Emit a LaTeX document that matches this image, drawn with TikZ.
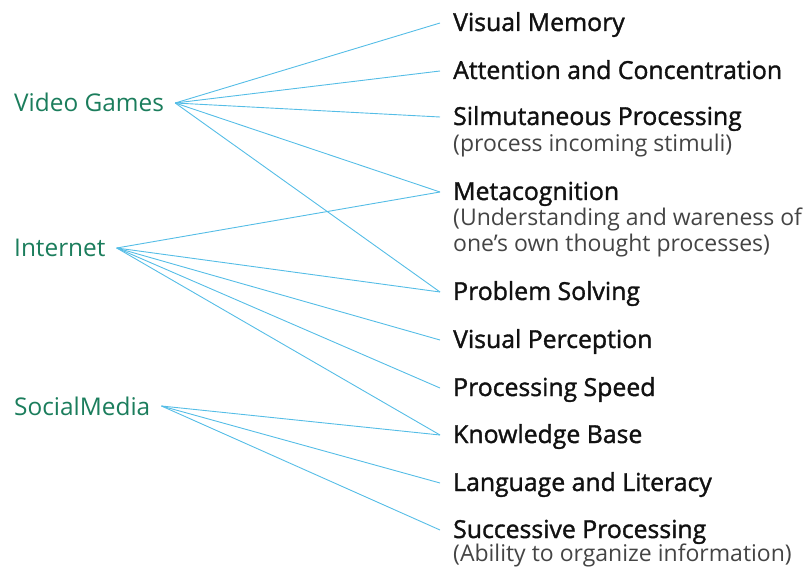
\documentclass[tikz,border=0pt]{standalone}
\usepackage{fontspec}
\setmainfont{Open Sans}
\newfontfamily\semib{Open Sans}[FakeBold=1.4]
\newfontfamily\lightf{Open Sans}
\definecolor{hubgreen}{HTML}{1B7D5C}
\definecolor{linkblue}{HTML}{55BDE6}
\definecolor{headtext}{HTML}{111111}
\definecolor{subtext}{HTML}{444444}
\begin{document}
\begin{tikzpicture}[x=1pt,y=-1pt,
  hub/.style={anchor=base west,inner xsep=11pt,inner ysep=0pt,text height=18pt,text depth=0pt,font=\fontsize{24.4}{28}\selectfont,text=hubgreen},
  head/.style={anchor=base west,inner xsep=13pt,inner ysep=0pt,text height=16pt,text depth=0pt,font=\semib\fontsize{24.8}{28}\selectfont,text=headtext},
  sub/.style={anchor=base west,inner xsep=0pt,inner ysep=0pt,font=\lightf\fontsize{23}{27}\selectfont,text=subtext},
  link/.style={draw=linkblue,line width=0.9pt}]
\useasboundingbox (0,0) rectangle (807,567);
% hubs
\node[hub] (vg) at (3,112) {Video Games};
\node[hub] (net) at (3,257) {Internet};
\node[hub] (sm) at (3,415) {SocialMedia};
% headings
\node[head] (vm) at (440,31) {Visual Memory};
\node[head] (att) at (440,79) {Attention and Concentration};
\node[head] (sim) at (440,125) {Silmutaneous Processing};
\node[sub] (simsub) at (453,152) {(process incoming stimuli)};
\node[head] (meta) at (440,200) {Metacognition};
\node[sub] (metasub1) at (453,226) {(Understanding and wareness of};
\node[sub] (metasub2) at (453,252) {one’s own thought processes)};
\node[head] (ps) at (440,300) {Problem Solving};
\node[head] (vp) at (440,348) {Visual Perception};
\node[head] (spd) at (440,396) {Processing Speed};
\node[head] (kb) at (440,443) {Knowledge Base};
\node[head] (lit) at (440,491) {Language and Literacy};
\node[head] (suc) at (440,538) {Successive Processing};
\node[sub] (sucsub) at (453,561) {(Ability to organize information)};
% links
\foreach \t in {vm,att,sim,meta,ps} \draw[link] (vg.east) -- (\t.west);
\foreach \t in {meta,ps,vp,spd,kb} \draw[link] (net.east) -- (\t.west);
\foreach \t in {kb,lit,suc} \draw[link] (sm.east) -- (\t.west);
\end{tikzpicture}
\end{document}
